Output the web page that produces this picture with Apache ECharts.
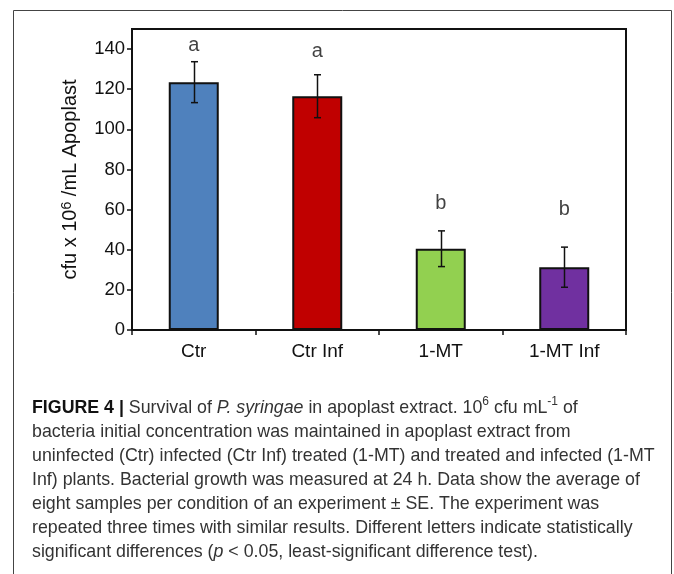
<!DOCTYPE html>
<html>
<head>
<meta charset="utf-8">
<script src="https://cdn.jsdelivr.net/npm/echarts@6/dist/echarts.min.js"></script>
<style>
  html, body { margin: 0; padding: 0; background: #fff; }
  #chart { width: 674px; height: 574px; }
</style>
</head>
<body>
<div id="chart"></div>
<script>
// data
var categories = ['Ctr', 'Ctr Inf', '1-MT', '1-MT Inf']
var means = [123.5, 116.5, 40.5, 31.3]
var se = [10.2, 10.7, 8.9, 10.0]
var letters = ['a', 'a', 'b', 'b']
var letterY = [142, 139, 63, 60]
var barColors = ['#4f81bd', '#c00000', '#92d050', '#7030a0']
var yTicks = [0, 20, 40, 60, 80, 100, 120, 140]

var captionLines = [
  '{b|FIGURE 4 |} Survival of {i|P. syringae} in apoplast extract. 10{s|6} cfu mL{s|-1} of',
  'bacteria initial concentration was maintained in apoplast extract from',
  'uninfected (Ctr) infected (Ctr Inf) treated (1-MT) and treated and infected (1-MT',
  'Inf) plants. Bacterial growth was measured at 24 h. Data show the average of',
  'eight samples per condition of an experiment \u00b1 SE. The experiment was',
  'repeated three times with similar results. Different letters indicate statistically',
  'significant differences ({i|p} < 0.05, least-significant difference test).'
]

var FONT = 'Liberation Sans, Arial, sans-serif'
var capSize = 17.8
var capColor = '#333'

var capRich = {
  b: { fontFamily: FONT, fontSize: capSize, fontWeight: 'bold', fill: '#111', color: '#111' },
  i: { fontFamily: FONT, fontSize: capSize, fontStyle: 'italic', fill: capColor, color: capColor },
  s: { fontFamily: FONT, fontSize: 12, fill: capColor, color: capColor, verticalAlign: 'top', lineHeight: 24 }
}

var graphics = []
// outer frame (open at the bottom)
graphics.push({
  type: 'polyline',
  shape: { points: [[13.5, 574], [13.5, 10.5], [671.5, 10.5], [671.5, 574]] },
  style: { stroke: '#444', lineWidth: 1, fill: null },
  silent: true
})
captionLines.forEach(function (line, i) {
  graphics.push({
    type: 'text',
    left: 32,
    top: 396 + i * 24,
    style: {
      text: line,
      rich: capRich,
      fontFamily: FONT,
      fontSize: capSize,
      fill: capColor,
      lineHeight: 24
    }
  })
})

var chart = echarts.init(document.getElementById('chart'))
chart.setOption({
  animation: false,
  backgroundColor: '#fff',
  grid: {
    left: 132, right: 48, top: 29, bottom: 244,
    show: true, borderColor: '#111', borderWidth: 2, backgroundColor: 'transparent'
  },
  xAxis: {
    type: 'category',
    data: categories,
    axisLine: { lineStyle: { color: '#111', width: 2 } },
    axisTick: { show: true, length: 5, lineStyle: { color: '#111', width: 1.5 } },
    axisLabel: { fontFamily: FONT, fontSize: 19, color: '#111', margin: 12 }
  },
  yAxis: {
    type: 'value',
    min: 0,
    max: 150,
    interval: 10,
    name: '{n|cfu x 10}{s|6}{n| /mL Apoplast}',
    nameLocation: 'middle',
    nameGap: 52,
    nameRotate: 90,
    nameTextStyle: {
      rich: {
        n: { fontFamily: FONT, fontSize: 20, color: '#111' },
        s: { fontFamily: FONT, fontSize: 14, color: '#111', verticalAlign: 'top', lineHeight: 20 }
      }
    },
    splitLine: { show: false },
    axisLine: { show: true, lineStyle: { color: '#111', width: 2 } },
    axisTick: { show: true, length: 5, customValues: yTicks, lineStyle: { color: '#111', width: 1.5 } },
    axisLabel: { fontFamily: FONT, fontSize: 18.5, color: '#111', margin: 7, customValues: yTicks }
  },
  series: [
    {
      type: 'bar',
      barWidth: 50,
      data: means.map(function (v, i) {
        return { value: v, itemStyle: { color: barColors[i] } }
      }),
      itemStyle: { borderColor: '#111', borderWidth: 2 },
      z: 2
    },
    {
      type: 'custom',
      data: means.map(function (v, i) { return [i, v - se[i], v + se[i]] }),
      renderItem: function (params, api) {
        var lo = api.coord([api.value(0), api.value(1)])
        var hi = api.coord([api.value(0), api.value(2)])
        var x = Math.round(lo[0]) + 0.5
        var cap = 3.5
        var st = { stroke: '#111', lineWidth: 1.5 }
        return {
          type: 'group',
          children: [
            { type: 'line', shape: { x1: x, y1: lo[1], x2: x, y2: hi[1] }, style: st },
            { type: 'line', shape: { x1: x - cap, y1: lo[1], x2: x + cap, y2: lo[1] }, style: st },
            { type: 'line', shape: { x1: x - cap, y1: hi[1], x2: x + cap, y2: hi[1] }, style: st }
          ]
        }
      },
      z: 3
    },
    {
      type: 'scatter',
      symbolSize: 0,
      data: letterY.map(function (v, i) { return [i, v] }),
      label: {
        show: true,
        position: 'inside',
        fontFamily: FONT,
        fontSize: 20,
        color: '#111',
        formatter: function (p) { return letters[p.dataIndex] }
      },
      z: 4
    }
  ],
  graphic: graphics
})
</script>
</body>
</html>
